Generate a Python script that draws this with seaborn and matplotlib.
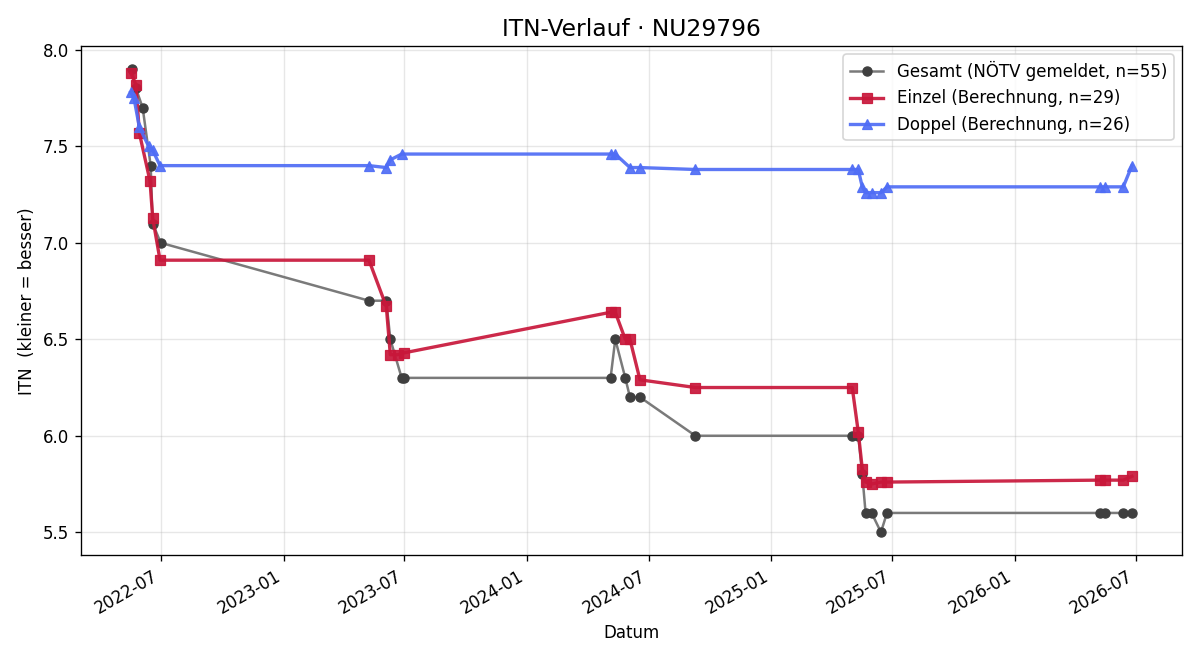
import pandas as pd
import matplotlib
matplotlib.use("Agg")
import matplotlib.pyplot as plt
import matplotlib.dates as mdates
import seaborn as sns

# Gesamt (NÖTV gemeldet)
gesamt_dates = ["2022-05-19", "2022-05-25", "2022-06-04", "2022-06-16", "2022-06-19", "2022-07-01",
                "2023-05-09", "2023-06-04", "2023-06-10", "2023-06-27", "2023-07-01",
                "2024-05-05", "2024-05-12", "2024-05-27", "2024-06-03", "2024-06-18", "2024-09-09",
                "2025-05-02", "2025-05-11", "2025-05-17", "2025-05-22", "2025-05-31", "2025-06-14", "2025-06-23",
                "2026-05-08", "2026-05-16", "2026-06-12", "2026-06-25"]
gesamt_itn = [7.90, 7.80, 7.70, 7.40, 7.10, 7.00,
              6.70, 6.70, 6.50, 6.30, 6.30,
              6.30, 6.50, 6.30, 6.20, 6.20, 6.00,
              6.00, 6.00, 5.80, 5.60, 5.60, 5.50, 5.60,
              5.60, 5.60, 5.60, 5.60]

# Einzel (Berechnung)
einzel_dates = ["2022-05-17", "2022-05-25", "2022-05-30", "2022-06-15", "2022-06-19", "2022-06-30",
                "2023-05-09", "2023-06-04", "2023-06-10", "2023-06-21", "2023-07-01",
                "2024-05-05", "2024-05-12", "2024-05-27", "2024-06-03", "2024-06-18", "2024-09-09",
                "2025-05-02", "2025-05-11", "2025-05-17", "2025-05-22", "2025-05-31", "2025-06-14", "2025-06-23",
                "2026-05-08", "2026-05-16", "2026-06-12", "2026-06-25"]
einzel_itn = [7.88, 7.82, 7.57, 7.32, 7.13, 6.91,
              6.91, 6.67, 6.42, 6.42, 6.43,
              6.64, 6.64, 6.50, 6.50, 6.29, 6.25,
              6.25, 6.02, 5.83, 5.76, 5.75, 5.76, 5.76,
              5.77, 5.77, 5.77, 5.79]

# Doppel (Berechnung)
doppel_dates = ["2022-05-17", "2022-05-22", "2022-05-30", "2022-06-13", "2022-06-19", "2022-06-30",
                "2023-05-09", "2023-06-04", "2023-06-10", "2023-06-27",
                "2024-05-05", "2024-05-12", "2024-06-03", "2024-06-18", "2024-09-09",
                "2025-05-02", "2025-05-11", "2025-05-17", "2025-05-22", "2025-05-31", "2025-06-14", "2025-06-23",
                "2026-05-08", "2026-05-16", "2026-06-12", "2026-06-25"]
doppel_itn = [7.78, 7.75, 7.60, 7.50, 7.48, 7.40,
              7.40, 7.39, 7.43, 7.46,
              7.46, 7.46, 7.39, 7.39, 7.38,
              7.38, 7.38, 7.29, 7.26, 7.26, 7.26, 7.29,
              7.29, 7.29, 7.29, 7.40]

df_g = pd.DataFrame({"Datum": pd.to_datetime(gesamt_dates), "ITN": gesamt_itn})
df_e = pd.DataFrame({"Datum": pd.to_datetime(einzel_dates), "ITN": einzel_itn})
df_d = pd.DataFrame({"Datum": pd.to_datetime(doppel_dates), "ITN": doppel_itn})

plt.rcParams["font.family"] = ["DejaVu Sans"]

fig, ax = plt.subplots(figsize=(10, 5.5), dpi=120)

sns.lineplot(data=df_g, x="Datum", y="ITN", ax=ax, estimator=None, sort=False,
             color="#7a7a7a", lw=1.5, marker="o", markersize=5.5,
             markerfacecolor="#3f3f3f", markeredgecolor="#3f3f3f",
             label="Gesamt (NÖTV gemeldet, n=55)")
sns.lineplot(data=df_e, x="Datum", y="ITN", ax=ax, estimator=None, sort=False,
             color="#c8173a", lw=2, marker="s", markersize=6.5, markeredgecolor="#c8173a",
             alpha=0.92, label="Einzel (Berechnung, n=29)")
sns.lineplot(data=df_d, x="Datum", y="ITN", ax=ax, estimator=None, sort=False,
             color="#4f6df5", lw=2, marker="^", markersize=6.5, markeredgecolor="#4f6df5",
             alpha=0.92, label="Doppel (Berechnung, n=26)")

ax.set_title("ITN-Verlauf · NU29796", fontsize=14)
ax.set_xlabel("Datum")
ax.set_ylabel("ITN  (kleiner = besser)")
ax.xaxis.set_major_locator(mdates.MonthLocator(bymonth=[1, 7]))
ax.xaxis.set_major_formatter(mdates.DateFormatter("%Y-%m"))
ax.grid(True, alpha=0.3)
ax.legend(loc="upper right")
fig.autofmt_xdate()

fig.tight_layout()
fig.savefig("out.png", dpi=120)
